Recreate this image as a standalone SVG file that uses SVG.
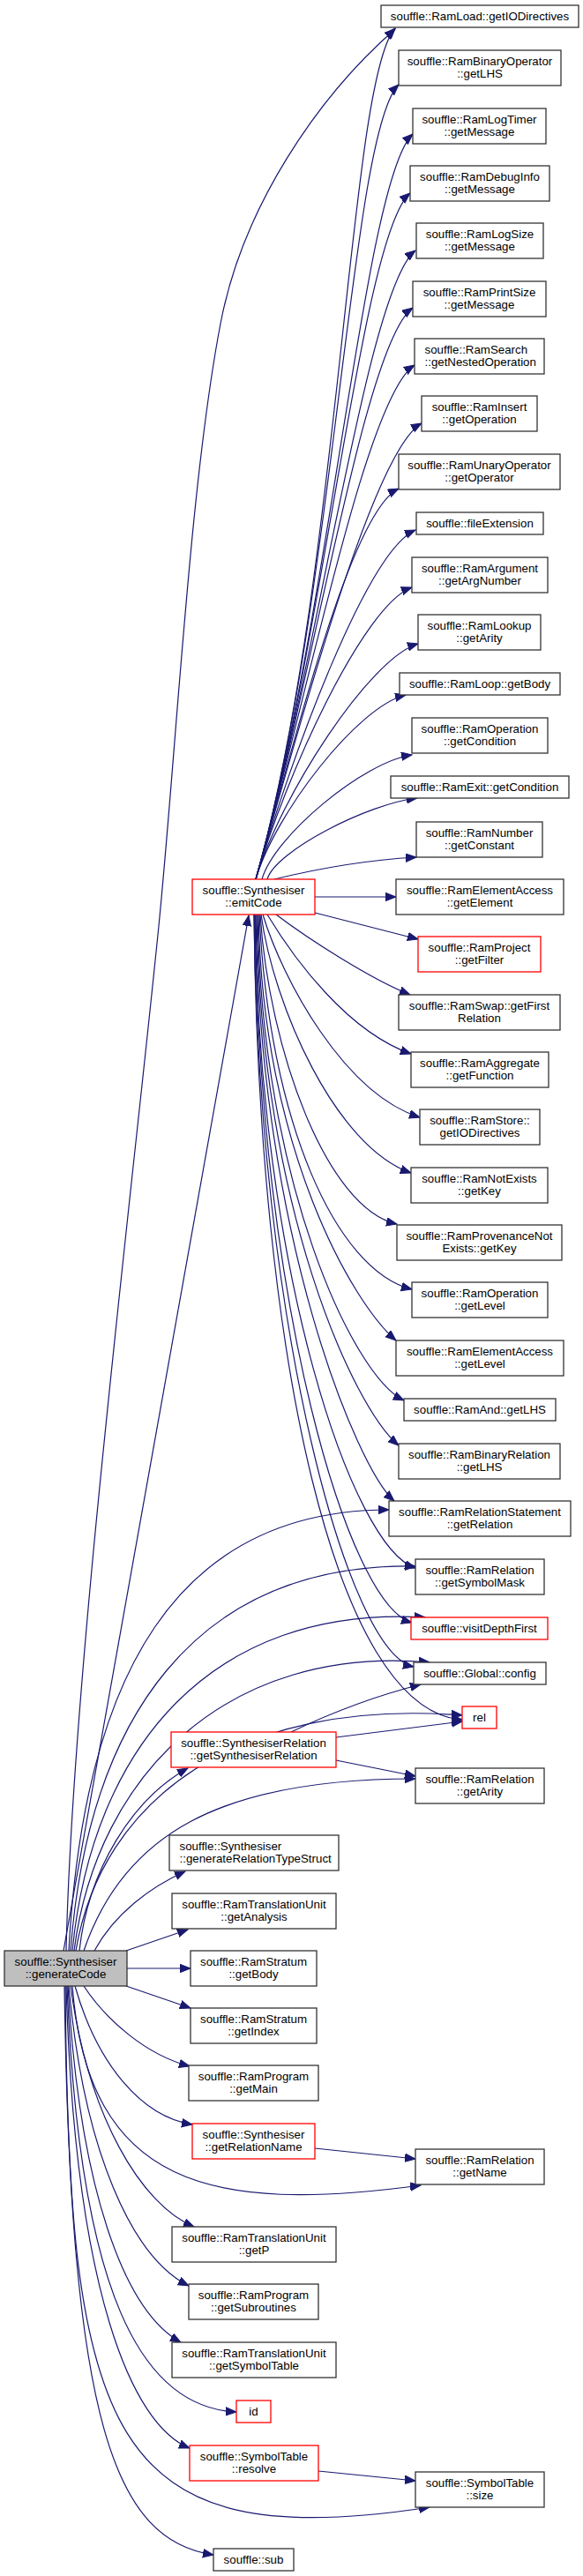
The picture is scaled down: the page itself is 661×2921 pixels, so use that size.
<svg xmlns="http://www.w3.org/2000/svg" width="661" height="2921" viewBox="0 0 661 2921">
<style>
.n rect{fill:#fff;stroke:#333;stroke-width:1.3}
.n.r rect{stroke:#ff0000}
.n.root rect{fill:#bfbfbf}
.n text{font-family:"Liberation Sans",Arial,Helvetica,sans-serif;font-size:13.3px;fill:#000;text-anchor:middle}
.n text.l{text-anchor:start}
#edges path{fill:none;stroke:#191970;stroke-width:1.2;marker-end:url(#ah)}
</style>
<defs>
<marker id="ah" markerUnits="userSpaceOnUse" markerWidth="14" markerHeight="11" refX="12" refY="5" orient="auto">
<path d="M0,0.3 L12,5 L0,9.7 z" fill="#191970" stroke="#191970" stroke-width="1"/>
</marker>
</defs>
<rect width="661" height="2921" fill="#fff"/>
<g id="edges">
<path d="M75,2212 C82,1900 150,1350 180,1050 C200,850 215,550 250,367 C275,235 360,110 448,33"/>
<path d="M72,2212 L282,1038"/>
<path d="M78,2212 C95,1900 200,1712 441,1712"/>
<path d="M80,2212 C100,1950 220,1772 471,1776"/>
<path d="M82,2212 C105,1980 240,1820 482,1834"/>
<path d="M84,2212 C110,2010 260,1865 487,1885"/>
<path d="M86,2212 C115,2040 270,1925 524,1945"/>
<path d="M90,2212 C100,2120 150,2040 213,2005"/>
<path d="M95,2212 C140,2080 250,2017 471,2017"/>
<path d="M107,2212 C130,2170 170,2140 210,2122"/>
<path d="M143,2212 L213,2188"/>
<path d="M144,2232 L216,2232"/>
<path d="M143,2252 L216,2277"/>
<path d="M95,2252 C120,2290 165,2330 215,2343"/>
<path d="M85,2252 C110,2340 160,2400 218,2409"/>
<path d="M82,2252 C100,2480 240,2510 477,2478"/>
<path d="M80,2252 C100,2400 160,2500 220,2525"/>
<path d="M78,2252 C95,2440 150,2560 214,2592"/>
<path d="M77,2252 C90,2480 140,2620 205,2656"/>
<path d="M76,2252 C90,2600 160,2730 268,2735"/>
<path d="M75,2252 C85,2600 150,2750 215,2776"/>
<path d="M74,2252 C78,2760 120,2900 487,2843"/>
<path d="M73,2252 C80,2750 130,2880 242,2897"/>
<path d="M330,1964 C380,1940 430,1922 477,1910"/>
<path d="M381,1970 L524,1952"/>
<path d="M381,1996 L471,2014"/>
<path d="M357,2436 L471,2448"/>
<path d="M361,2802 L471,2813"/>
<path d="M290,997 C386,659 395,90 448,32"/>
<path d="M290,997 C380,682 397,150 452,96"/>
<path d="M290,997 C374,701 413,203 468,152"/>
<path d="M290,997 C368,725 410,266 465,219"/>
<path d="M290,997 C361,747 416,327 471,284"/>
<path d="M290,997 C355,770 413,388 468,349"/>
<path d="M290,997 C348,793 415,449 470,414"/>
<path d="M290,997 C342,816 423,511 478,480"/>
<path d="M290,997 C334,842 397,581 452,554"/>
<path d="M290,997 C330,858 416,625 471,601"/>
<path d="M290,997 C323,881 412,686 467,666"/>
<path d="M290,997 C317,904 419,746 474,730"/>
<path d="M290,997 C311,924 405,801 460,788"/>
<path d="M297,997 C311,948 412,864 467,856"/>
<path d="M303,997 C312,965 418,911 473,905"/>
<path d="M311,997 C360,985 420,975 472,972"/>
<path d="M357,1017 L449,1017"/>
<path d="M357,1035 L474,1065"/>
<path d="M313,1037 C350,1065 420,1110 465,1128"/>
<path d="M303,1037 C335,1090 395,1170 466,1195"/>
<path d="M298,1037 C320,1110 390,1240 476,1267"/>
<path d="M296,1037 C310,1140 380,1300 466,1330"/>
<path d="M295,1037 C305,1190 370,1370 450,1388"/>
<path d="M294,1037 C305,1270 380,1440 467,1462"/>
<path d="M293,1037 C298,1303 400,1478 449,1520"/>
<path d="M292,1037 C297,1340 400,1560 458,1588"/>
<path d="M291,1037 C296,1368 400,1595 452,1639"/>
<path d="M290,1037 C295,1403 405,1665 447,1702"/>
<path d="M289,1037 C294,1445 400,1755 471,1778"/>
<path d="M289,1037 C294,1479 395,1820 467,1840"/>
<path d="M288,1037 C293,1506 395,1875 469,1890"/>
<path d="M288,1037 C293,1539 380,1940 524,1950"/>
</g>
<g id="n1" class="n"><rect x="432" y="6" width="224" height="25"/><text x="544" y="23">souffle::RamLoad::getIODirectives</text></g>
<g id="n2" class="n"><rect x="452" y="57" width="184" height="40"/><text x="544" y="73.5">souffle::RamBinaryOperator</text><text x="544" y="87.5">::getLHS</text></g>
<g id="n3" class="n"><rect x="468" y="123" width="151" height="40"/><text x="543.5" y="139.5">souffle::RamLogTimer</text><text x="543.5" y="153.5">::getMessage</text></g>
<g id="n4" class="n"><rect x="465" y="188" width="158" height="40"/><text x="544" y="204.5">souffle::RamDebugInfo</text><text x="544" y="218.5">::getMessage</text></g>
<g id="n5" class="n"><rect x="472" y="253" width="144" height="40"/><text x="544" y="269.5">souffle::RamLogSize</text><text x="544" y="283.5">::getMessage</text></g>
<g id="n6" class="n"><rect x="468" y="319" width="151" height="40"/><text x="543.5" y="335.5">souffle::RamPrintSize</text><text x="543.5" y="349.5">::getMessage</text></g>
<g id="n7" class="n"><rect x="470" y="384" width="147" height="40"/><text class="l" x="481.5" y="400.5">souffle::RamSearch</text><text class="l" x="481.5" y="414.5">::getNestedOperation</text></g>
<g id="n8" class="n"><rect x="478" y="449" width="131" height="40"/><text x="543.5" y="465.5">souffle::RamInsert</text><text x="543.5" y="479.5">::getOperation</text></g>
<g id="n9" class="n"><rect x="452" y="515" width="183" height="40"/><text x="543.5" y="531.5">souffle::RamUnaryOperator</text><text x="543.5" y="545.5">::getOperator</text></g>
<g id="n10" class="n"><rect x="472" y="581" width="144" height="25"/><text x="544" y="598">souffle::fileExtension</text></g>
<g id="n11" class="n"><rect x="467" y="632" width="154" height="40"/><text x="544" y="648.5">souffle::RamArgument</text><text x="544" y="662.5">::getArgNumber</text></g>
<g id="n12" class="n"><rect x="474" y="697" width="139" height="40"/><text x="543.5" y="713.5">souffle::RamLookup</text><text x="543.5" y="727.5">::getArity</text></g>
<g id="n13" class="n"><rect x="453" y="763" width="182" height="25"/><text x="544" y="780">souffle::RamLoop::getBody</text></g>
<g id="n14" class="n"><rect x="467" y="814" width="154" height="40"/><text x="544" y="830.5">souffle::RamOperation</text><text x="544" y="844.5">::getCondition</text></g>
<g id="n15" class="n"><rect x="443" y="880" width="202" height="25"/><text x="544" y="897">souffle::RamExit::getCondition</text></g>
<g id="n16" class="n"><rect x="472" y="932" width="143" height="40"/><text x="543.5" y="948.5">souffle::RamNumber</text><text x="543.5" y="962.5">::getConstant</text></g>
<g id="n17" class="n"><rect x="449" y="997" width="190" height="40"/><text x="544" y="1013.5">souffle::RamElementAccess</text><text x="544" y="1027.5">::getElement</text></g>
<g id="n18" class="n r"><rect x="218" y="997" width="139" height="40"/><text x="287.5" y="1013.5">souffle::Synthesiser</text><text x="287.5" y="1027.5">::emitCode</text></g>
<g id="n19" class="n r"><rect x="474" y="1062" width="139" height="40"/><text x="543.5" y="1078.5">souffle::RamProject</text><text x="543.5" y="1092.5">::getFilter</text></g>
<g id="n20" class="n"><rect x="452" y="1128" width="183" height="40"/><text x="543.5" y="1144.5">souffle::RamSwap::getFirst</text><text x="543.5" y="1158.5">Relation</text></g>
<g id="n21" class="n"><rect x="466" y="1193" width="156" height="40"/><text x="544" y="1209.5">souffle::RamAggregate</text><text x="544" y="1223.5">::getFunction</text></g>
<g id="n22" class="n"><rect x="476" y="1258" width="136" height="40"/><text x="544" y="1274.5">souffle::RamStore::</text><text x="544" y="1288.5">getIODirectives</text></g>
<g id="n23" class="n"><rect x="466" y="1324" width="155" height="40"/><text x="543.5" y="1340.5">souffle::RamNotExists</text><text x="543.5" y="1354.5">::getKey</text></g>
<g id="n24" class="n"><rect x="450" y="1389" width="187" height="40"/><text x="543.5" y="1405.5">souffle::RamProvenanceNot</text><text x="543.5" y="1419.5">Exists::getKey</text></g>
<g id="n25" class="n"><rect x="467" y="1454" width="154" height="40"/><text x="544" y="1470.5">souffle::RamOperation</text><text x="544" y="1484.5">::getLevel</text></g>
<g id="n26" class="n"><rect x="449" y="1520" width="190" height="40"/><text x="544" y="1536.5">souffle::RamElementAccess</text><text x="544" y="1550.5">::getLevel</text></g>
<g id="n27" class="n"><rect x="458" y="1586" width="172" height="25"/><text x="544" y="1603">souffle::RamAnd::getLHS</text></g>
<g id="n28" class="n"><rect x="452" y="1637" width="183" height="40"/><text x="543.5" y="1653.5">souffle::RamBinaryRelation</text><text x="543.5" y="1667.5">::getLHS</text></g>
<g id="n29" class="n"><rect x="441" y="1702" width="206" height="40"/><text x="544" y="1718.5">souffle::RamRelationStatement</text><text x="544" y="1732.5">::getRelation</text></g>
<g id="n30" class="n"><rect x="471" y="1768" width="146" height="40"/><text x="544" y="1784.5">souffle::RamRelation</text><text x="544" y="1798.5">::getSymbolMask</text></g>
<g id="n31" class="n r"><rect x="466" y="1834" width="155" height="25"/><text x="543.5" y="1851">souffle::visitDepthFirst</text></g>
<g id="n32" class="n"><rect x="469" y="1885" width="150" height="25"/><text x="544" y="1902">souffle::Global::config</text></g>
<g id="n33" class="n r"><rect x="524" y="1935" width="39" height="25"/><text x="543.5" y="1952">rel</text></g>
<g id="n34" class="n r"><rect x="194" y="1964" width="187" height="40"/><text x="287.5" y="1980.5">souffle::SynthesiserRelation</text><text x="287.5" y="1994.5">::getSynthesiserRelation</text></g>
<g id="n35" class="n"><rect x="471" y="2005" width="146" height="40"/><text x="544" y="2021.5">souffle::RamRelation</text><text x="544" y="2035.5">::getArity</text></g>
<g id="n36" class="n"><rect x="192" y="2081" width="192" height="40"/><text class="l" x="203.5" y="2097.5">souffle::Synthesiser</text><text class="l" x="203.5" y="2111.5">::generateRelationTypeStruct</text></g>
<g id="n37" class="n"><rect x="195" y="2147" width="186" height="40"/><text x="288" y="2163.5">souffle::RamTranslationUnit</text><text x="288" y="2177.5">::getAnalysis</text></g>
<g id="n38" class="n"><rect x="216" y="2212" width="143" height="40"/><text x="287.5" y="2228.5">souffle::RamStratum</text><text x="287.5" y="2242.5">::getBody</text></g>
<g id="n39" class="n"><rect x="216" y="2277" width="143" height="40"/><text x="287.5" y="2293.5">souffle::RamStratum</text><text x="287.5" y="2307.5">::getIndex</text></g>
<g id="n40" class="n"><rect x="214" y="2342" width="147" height="40"/><text x="287.5" y="2358.5">souffle::RamProgram</text><text x="287.5" y="2372.5">::getMain</text></g>
<g id="n41" class="n r"><rect x="218" y="2408" width="139" height="40"/><text x="287.5" y="2424.5">souffle::Synthesiser</text><text x="287.5" y="2438.5">::getRelationName</text></g>
<g id="n42" class="n"><rect x="471" y="2437" width="146" height="40"/><text x="544" y="2453.5">souffle::RamRelation</text><text x="544" y="2467.5">::getName</text></g>
<g id="n43" class="n"><rect x="195" y="2525" width="186" height="40"/><text x="288" y="2541.5">souffle::RamTranslationUnit</text><text x="288" y="2555.5">::getP</text></g>
<g id="n44" class="n"><rect x="214" y="2590" width="147" height="40"/><text x="287.5" y="2606.5">souffle::RamProgram</text><text x="287.5" y="2620.5">::getSubroutines</text></g>
<g id="n45" class="n"><rect x="195" y="2656" width="186" height="40"/><text x="288" y="2672.5">souffle::RamTranslationUnit</text><text x="288" y="2686.5">::getSymbolTable</text></g>
<g id="n46" class="n r"><rect x="268" y="2722" width="39" height="25"/><text x="287.5" y="2739">id</text></g>
<g id="n47" class="n r"><rect x="215" y="2773" width="146" height="40"/><text x="288" y="2789.5">souffle::SymbolTable</text><text x="288" y="2803.5">::resolve</text></g>
<g id="n48" class="n"><rect x="471" y="2803" width="146" height="40"/><text x="544" y="2819.5">souffle::SymbolTable</text><text x="544" y="2833.5">::size</text></g>
<g id="n49" class="n"><rect x="242" y="2890" width="91" height="25"/><text x="287.5" y="2907">souffle::sub</text></g>
<g id="n0" class="n root"><rect x="5" y="2212" width="139" height="40"/><text x="74.5" y="2228.5">souffle::Synthesiser</text><text x="74.5" y="2242.5">::generateCode</text></g>
</svg>
